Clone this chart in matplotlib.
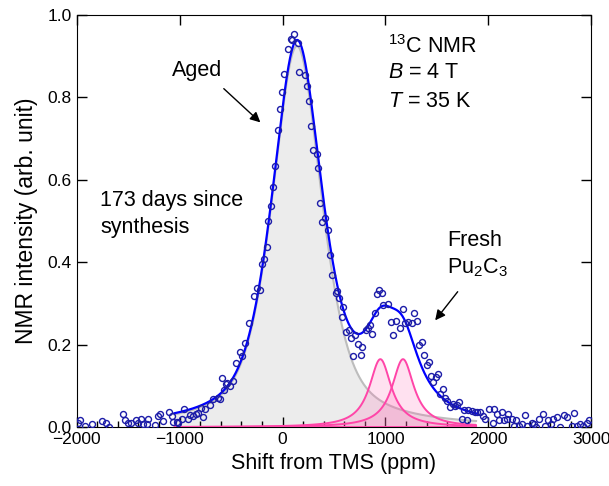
import numpy as np
import matplotlib
matplotlib.use('Agg')
import matplotlib.pyplot as plt
from matplotlib.ticker import MultipleLocator

plt.rcParams['font.family'] = ['Liberation Sans', 'DejaVu Sans']
plt.rcParams['mathtext.fontset'] = 'custom'
plt.rcParams['mathtext.rm'] = 'Liberation Sans'
plt.rcParams['mathtext.it'] = 'Liberation Sans:italic'

# measured spectrum (shift in ppm, intensity)
shift = [-1984, -1968, -1919, -1854, -1757, -1715, -1683, -1553, -1531, -1499,
         -1475, -1424, -1401, -1375, -1353, -1320, -1304, -1239, -1207, -1190,
         -1158, -1100, -1077, -1061, -1028, -1012, -980, -957, -915, -899,
         -867, -844, -818, -792, -776, -753, -705, -672, -624, -607,
         -591, -569, -549, -542, -510, -478, -452, -413, -397, -364,
         -323, -274, -251, -219, -202, -180, -154, -138, -112, -89,
         -73, -47, -24, -2, 17, 51, 83, 95, 115, 148,
         160, 219, 235, 258, 277, 299, 332, 348, 364, 387,
         413, 439, 462, 484, 517, 527, 549, 575, 591, 617,
         649, 666, 688, 705, 737, 763, 776, 811, 834, 850,
         873, 899, 921, 941, 964, 980, 1028, 1051, 1077, 1103,
         1142, 1168, 1190, 1223, 1256, 1281, 1304, 1330, 1353, 1375,
         1401, 1424, 1440, 1466, 1489, 1514, 1531, 1557, 1579, 1602,
         1628, 1654, 1676, 1699, 1715, 1741, 1764, 1790, 1806, 1839,
         1871, 1893, 1919, 1946, 1968, 2010, 2043, 2055, 2082, 2107,
         2130, 2153, 2179, 2195, 2228, 2250, 2269, 2301, 2325, 2357,
         2373, 2422, 2444, 2464, 2496, 2535, 2551, 2583, 2606, 2632,
         2671, 2697, 2736, 2768, 2810, 2836, 2859, 2891, 2923, 2956, 2982]
intensity = [0.009, 0.018, 0.002, 0.007, 0.015, 0.011, 0.001, 0.031, 0.017, 0.009,
             0.009, 0.017, 0.009, 0.019, 0.007, 0.007, 0.021, 0.005, 0.027, 0.032,
             0.015, 0.037, 0.027, 0.013, 0.013, 0.011, 0.019, 0.043, 0.019, 0.029,
             0.027, 0.033, 0.035, 0.046, 0.024, 0.043, 0.053, 0.068, 0.070, 0.068,
             0.120, 0.090, 0.106, 0.108, 0.100, 0.111, 0.155, 0.183, 0.172, 0.205,
             0.253, 0.318, 0.337, 0.333, 0.396, 0.409, 0.438, 0.501, 0.537, 0.583,
             0.634, 0.721, 0.772, 0.814, 0.858, 0.917, 0.943, 0.940, 0.954, 0.933,
             0.862, 0.854, 0.828, 0.791, 0.731, 0.672, 0.664, 0.628, 0.545, 0.498,
             0.507, 0.479, 0.419, 0.369, 0.325, 0.331, 0.314, 0.268, 0.292, 0.231,
             0.235, 0.217, 0.173, 0.223, 0.203, 0.175, 0.195, 0.235, 0.240, 0.248,
             0.225, 0.278, 0.323, 0.333, 0.325, 0.296, 0.299, 0.256, 0.223, 0.258,
             0.241, 0.286, 0.253, 0.256, 0.252, 0.277, 0.258, 0.199, 0.206, 0.175,
             0.150, 0.159, 0.124, 0.110, 0.121, 0.130, 0.080, 0.092, 0.070, 0.064,
             0.049, 0.056, 0.051, 0.053, 0.061, 0.021, 0.041, 0.017, 0.041, 0.040,
             0.037, 0.036, 0.037, 0.027, 0.019, 0.045, 0.009, 0.045, 0.032, 0.017,
             0.037, 0.017, 0.019, 0.032, 0.021, 0.003, 0.017, 0.004, 0.007, 0.029,
             0.003, 0.010, 0.007, 0.001, 0.021, 0.033, 0.003, 0.017, 0.007, 0.021,
             0.024, 0.001, 0.029, 0.025, 0.003, 0.035, 0.003, 0.007, 0.003, 0.009, 0.017]

# aged component: pseudo-Voigt (center, hwhm, amplitude, lorentz fraction)
aged_peak = [140, 290, 0.925, 0.6]
# fresh Pu2C3 components as drawn: Lorentzians (center, hwhm, amplitude)
fresh_centers = [950, 1170]
fresh_hwhm = 130
fresh_amp = 0.165
# the total fit uses broader fresh lines
fit_fresh_hwhm = 200
fit_fresh_amp = 0.156

x_range = [-1050, 1880]


def lorentz(x, c, w, a):
    return a / (1 + ((x - c) / w) ** 2)


def pvoigt(x, c, w, a, eta):
    g = np.exp(-np.log(2) * ((x - c) / w) ** 2)
    l = 1 / (1 + ((x - c) / w) ** 2)
    return a * (eta * l + (1 - eta) * g)


x = np.linspace(x_range[0], x_range[1], 800)
aged = pvoigt(x, *aged_peak)
fresh = [lorentz(x, c, fresh_hwhm, fresh_amp) for c in fresh_centers]
total = aged + sum(lorentz(x, c, fit_fresh_hwhm, fit_fresh_amp) for c in fresh_centers)

fig, ax = plt.subplots(figsize=(6.09, 4.86), dpi=100)
fig.subplots_adjust(left=0.126, right=0.971, bottom=0.121, top=0.969)

ax.fill_between(x, 0, aged, facecolor='#ececec', edgecolor='none', zorder=1)
ax.plot(x, aged, color='#bdbdbd', lw=1.5, zorder=2)
for f in fresh:
    ax.fill_between(x, 0, f, facecolor='#ff69b4', alpha=0.2, edgecolor='none', zorder=3)
    ax.fill_between(x, 0, f, facecolor='none', edgecolor='#ff45a8', lw=1.4, zorder=4)
ax.plot(x, total, color='#0000ff', lw=1.6, zorder=5)
ax.plot(shift, intensity, 'o', ms=4.3, mfc='none', mec='#1c1ca8', mew=1.0, zorder=6)

ax.set_xlim(-2000, 3000)
ax.set_ylim(0, 1.0)
ax.xaxis.set_major_locator(MultipleLocator(1000))
ax.xaxis.set_minor_locator(MultipleLocator(200))
ax.yaxis.set_major_locator(MultipleLocator(0.2))
ax.tick_params(which='major', direction='in', length=7, width=1, top=True, right=True, labelsize=12.5)
ax.tick_params(which='minor', direction='in', length=4, width=1, top=False, right=False)
ax.set_yticklabels(['%.1f' % v for v in ax.get_yticks()])

ax.set_xlabel('Shift from TMS (ppm)', fontsize=15.5, labelpad=4)
ax.set_ylabel('NMR intensity (arb. unit)', fontsize=16.5, labelpad=7)

ax.text(-1074, 0.866, 'Aged', fontsize=15.5, va='center', ha='left')
ax.annotate('', xy=(-196, 0.735), xytext=(-591, 0.826),
            arrowprops=dict(arrowstyle='-|>', color='black', lw=1, mutation_scale=15))
ax.text(-1774, 0.551, '173 days since', fontsize=15.5, va='center', ha='left')
ax.text(-1774, 0.485, 'synthesis', fontsize=15.5, va='center', ha='left')

ax.text(1025, 0.923, r'$^{13}$C NMR', fontsize=15.5, va='center', ha='left')
ax.text(1025, 0.860, r'$B$ = 4 T', fontsize=15.5, va='center', ha='left')
ax.text(1025, 0.791, r'$T$ = 35 K', fontsize=15.5, va='center', ha='left')

ax.text(1599, 0.454, 'Fresh', fontsize=15.5, va='center', ha='left')
ax.text(1599, 0.386, r'Pu$_2$C$_3$', fontsize=15.5, va='center', ha='left')
ax.annotate('', xy=(1466, 0.254), xytext=(1718, 0.334),
            arrowprops=dict(arrowstyle='-|>', color='black', lw=1, mutation_scale=15))

fig.savefig('out.png', dpi=100)
